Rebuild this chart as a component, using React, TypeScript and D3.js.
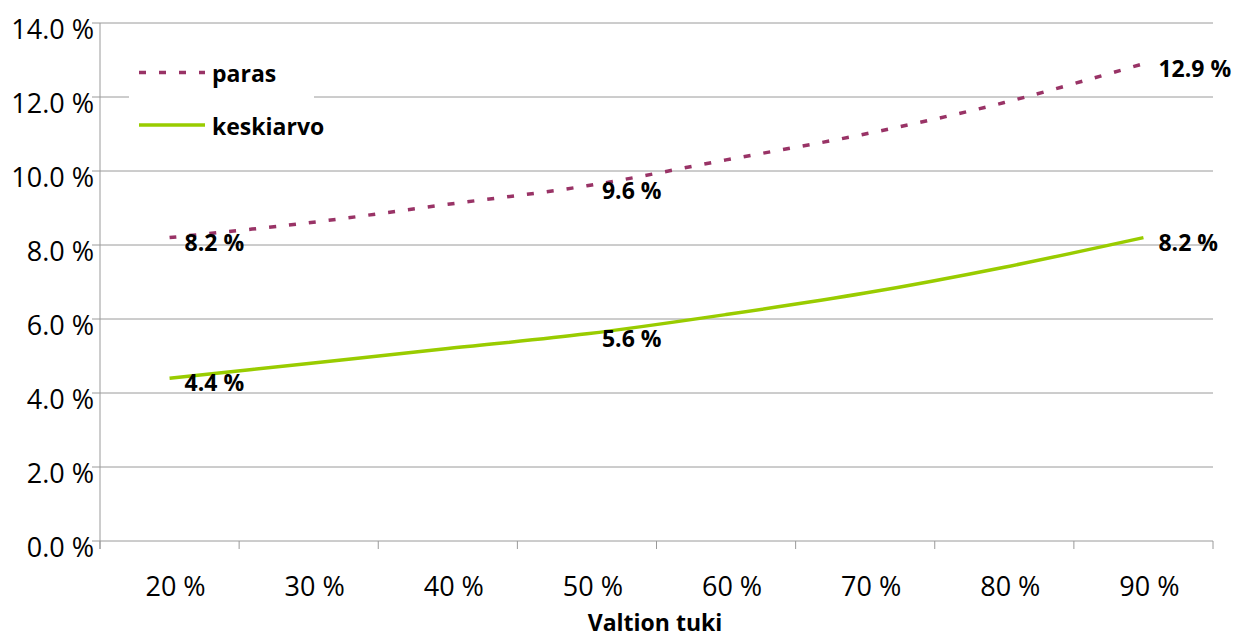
import React from "react";
import * as d3 from "d3";

const categories = ["20 %", "30 %", "40 %", "50 %", "60 %", "70 %", "80 %", "90 %"];
const parasValues = [8.2, 8.6, 9.1, 9.6, 10.3, 11.0, 11.85, 12.9];
const keskiarvoValues = [4.4, 4.8, 5.2, 5.6, 6.12, 6.7, 7.4, 8.2];
const yTicks = [0, 2, 4, 6, 8, 10, 12, 14];
const labelIndices = [0, 3, 7];
const seriesNames = ["paras", "keskiarvo"];

const W = 1234;
const H = 637;
const FONT = "'Open Sans', 'Noto Sans', sans-serif";
const PARAS_COLOR = "#993366";
const KESKI_COLOR = "#99CC00";
const GRID = "#9a9a9a";

export default function App() {
  const left = 100, right = 1213, top = 23, bottom = 541;
  const x = d3.scaleBand<string>().domain(categories).range([left, right]).padding(0);
  const y = d3.scaleLinear().domain([0, 14]).range([bottom, top]);
  const cx = (c: string) => (x(c) as number) + x.bandwidth() / 2;

  const line = d3
    .line<number>()
    .x((_, i) => cx(categories[i]))
    .y((v) => y(v))
    .curve(d3.curveCatmullRom.alpha(0.5));

  const boundaries = categories.map((c) => x(c) as number).concat([right]);

  const series = [
    { name: seriesNames[0], values: parasValues, color: PARAS_COLOR, dash: "7,13" },
    { name: seriesNames[1], values: keskiarvoValues, color: KESKI_COLOR, dash: undefined },
  ];

  return (
    <svg
      width={W}
      height={H}
      style={{ position: "absolute", left: 0, top: 0, background: "#fff" }}
      fontFamily={FONT}
    >
      {/* gridlines */}
      {yTicks.map((t) => (
        <line key={"g" + t} x1={left - 8} x2={right} y1={y(t)} y2={y(t)} stroke={GRID} strokeWidth={1} />
      ))}
      {/* y axis */}
      <line x1={left} x2={left} y1={top} y2={bottom + 8} stroke={GRID} strokeWidth={1} />
      {/* x ticks */}
      {boundaries.map((b, i) => (
        <line key={"xt" + i} x1={b} x2={b} y1={bottom} y2={bottom + 8} stroke={GRID} strokeWidth={1} />
      ))}
      {/* y labels */}
      {yTicks.map((t) => (
        <text key={"yl" + t} x={94} y={y(t) + 16} textAnchor="end" fontSize={27} fill="#000">
          {t.toFixed(1) + " %"}
        </text>
      ))}
      {/* x labels */}
      {categories.map((c) => (
        <text key={"xl" + c} x={cx(c) + 6} y={596} textAnchor="middle" fontSize={27} fill="#000">
          {c}
        </text>
      ))}
      <text x={655} y={631} textAnchor="middle" fontSize={23} fontWeight="bold" fill="#000">
        Valtion tuki
      </text>

      {/* legend */}
      <rect x={129} y={52} width={185} height={95} fill="#fff" />
      {series.map((s, i) => (
        <g key={"lg" + s.name}>
          <line
            x1={139}
            x2={205}
            y1={72.5 + i * 52.5}
            y2={72.5 + i * 52.5}
            stroke={s.color}
            strokeWidth={3.5}
            strokeDasharray={s.dash}
          />
          <text x={212} y={82 + i * 52.5} fontSize={23} fontWeight="bold" fill="#000">
            {s.name}
          </text>
        </g>
      ))}

      {/* lines */}
      {series.map((s) => (
        <path
          key={"p" + s.name}
          d={line(s.values) || ""}
          fill="none"
          stroke={s.color}
          strokeWidth={3.5}
          strokeDasharray={s.dash}
        />
      ))}

      {/* data labels */}
      {series.map((s) =>
        labelIndices.map((i) => (
          <text
            key={"dl" + s.name + i}
            x={cx(categories[i]) + 15}
            y={y(s.values[i]) + 13}
            fontSize={23}
            fontWeight="bold"
            fill="#000"
          >
            {s.values[i].toFixed(1) + " %"}
          </text>
        ))
      )}
    </svg>
  );
}
